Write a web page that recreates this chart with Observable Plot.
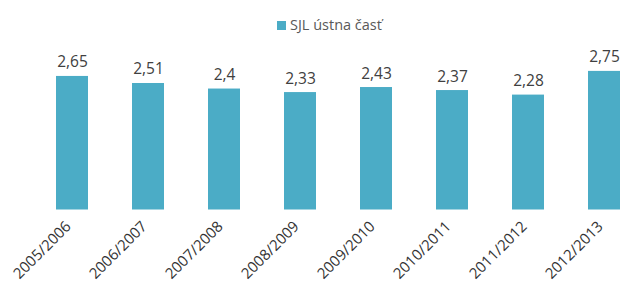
<!DOCTYPE html>
<html>
<head>
<meta charset="utf-8">
<script src="https://cdn.jsdelivr.net/npm/d3@7"></script>
<script src="https://cdn.jsdelivr.net/npm/@observablehq/plot@0.6"></script>
<style>
  html, body { margin: 0; padding: 0; background: #fff; }
  #wrap { position: relative; width: 641px; height: 282px; overflow: hidden; font-family: "Open Sans", sans-serif; }
  #legend { position: relative; height: 40px; width: 641px; }
  #legend .sw { position: absolute; left: 277px; top: 21px; width: 9px; height: 9px; background: #4bacc6; }
  #legend .lb { position: absolute; left: 290px; top: 15px; font-size: 14.5px; line-height: 20px; color: #595959; white-space: nowrap; }
  svg { display: block; }
</style>
</head>
<body>
<div id="wrap">
  <div id="legend"><div class="sw"></div><div class="lb">SJL ústna časť</div></div>
  <div id="chart"></div>
</div>
<script>
const categories = ["2005/2006", "2006/2007", "2007/2008", "2008/2009", "2009/2010", "2010/2011", "2011/2012", "2012/2013"];
const values = [2.65, 2.51, 2.4, 2.33, 2.43, 2.37, 2.28, 2.75];
const seriesName = "SJL ústna časť";

const data = categories.map((c, i) => ({year: c, value: values[i], label: String(values[i]).replace(".", ",")}));

const chart = Plot.plot({
  width: 641,
  height: 242,
  marginTop: 18.3,
  marginBottom: 72.5,
  marginLeft: 38.7,
  marginRight: 4.4,
  style: {fontFamily: "Open Sans, sans-serif", background: "#fff"},
  x: {type: "band", domain: categories, paddingInner: 0.58, paddingOuter: 0.2, axis: null},
  y: {domain: [0, 3], axis: null},
  marks: [
    Plot.barY(data, {x: "year", y: "value", fill: "#4bacc6"}),
    Plot.text(data, {x: "year", y: "value", text: "label", dy: -9, lineAnchor: "bottom", fontSize: 15.5, fill: "#404040"}),
    Plot.axisX({tickRotate: -45, tickSize: 0, tickPadding: 14, dx: -4, fontSize: 15, color: "#333", label: null})
  ]
});
document.getElementById("chart").appendChild(chart);
</script>
</body>
</html>
